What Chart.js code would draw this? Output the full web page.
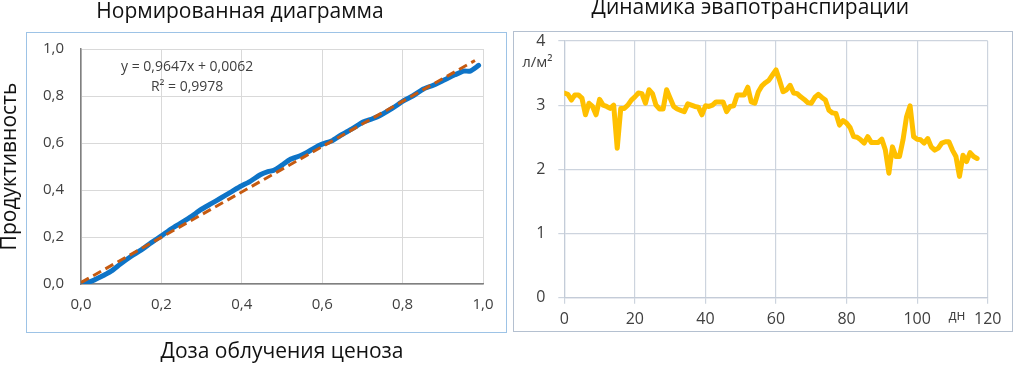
<!DOCTYPE html>
<html>
<head>
<meta charset="utf-8">
<script src="https://cdn.jsdelivr.net/npm/chart.js@4"></script>
<style>
  html, body { margin: 0; padding: 0; background: #fff; overflow: hidden; width: 1013px; height: 365px; }
  .frame { position: absolute; box-sizing: border-box; }
  #frameL { left: 26px; top: 32px; width: 481px; height: 301px; border: 1.5px solid #9DC3E6; }
  #frameR { left: 513px; top: 31px; width: 500px; height: 301px; border: 1.5px solid #B4C0D0; }
  .wrap { position: absolute; }
  #wrapL { left: -3px; top: -1px; width: 565px; height: 366px; }
  #wrapR { left: 513px; top: -5px; width: 508px; height: 370px; }
</style>
</head>
<body>
<div class="frame" id="frameL"></div>
<div class="frame" id="frameR"></div>
<div class="wrap" id="wrapL"><canvas id="cL" width="565" height="366"></canvas></div>
<div class="wrap" id="wrapR"><canvas id="cR" width="508" height="370"></canvas></div>
<script>
// ---------- Left chart data ----------
const leftTitle = 'Нормированная диаграмма';
const leftXTitle = 'Доза облучения ценоза';
const leftYTitle = 'Продуктивность';
const doseX = [0, 0.02, 0.048, 0.075, 0.098, 0.125, 0.148, 0.175, 0.2, 0.225, 0.247, 0.275, 0.297, 0.325, 0.347, 0.375, 0.396, 0.42, 0.446, 0.465, 0.48, 0.5, 0.52, 0.545, 0.562, 0.58, 0.6, 0.625, 0.645, 0.675, 0.703, 0.725, 0.745, 0.775, 0.803, 0.825, 0.852, 0.875, 0.902, 0.93, 0.952, 0.968, 0.989];
const prodY = [0, 0.008, 0.03, 0.055, 0.085, 0.118, 0.143, 0.176, 0.205, 0.235, 0.258, 0.288, 0.315, 0.343, 0.365, 0.393, 0.415, 0.436, 0.465, 0.478, 0.484, 0.506, 0.53, 0.546, 0.56, 0.578, 0.595, 0.61, 0.632, 0.661, 0.69, 0.703, 0.718, 0.748, 0.78, 0.8, 0.83, 0.845, 0.867, 0.89, 0.906, 0.906, 0.93];
const trendX = [0, 0.98];
const trendY = [0.006, 0.951];
const trendLabel = ['y = 0,9647x + 0,0062', 'R² = 0,9978'];
const leftTickLabels = ['0,0', '0,2', '0,4', '0,6', '0,8', '1,0'];

// ---------- Right chart data ----------
const rightTitle = 'Динамика эвапотранспирации';
const rightYUnit = 'л/м²';
const rightXUnit = 'дн';
const days = [];
for (let i = 0; i <= 117; i++) days.push(i);
const evapo = [3.19, 3.17, 3.08, 3.16, 3.16, 3.11, 2.85, 3.03, 2.98, 2.85,
  3.09, 3.0, 2.98, 2.95, 3.0, 2.33, 2.95, 2.95, 3.0, 3.08,
  3.13, 3.19, 3.18, 3.03, 3.24, 3.18, 3.0, 2.94, 2.94, 3.24,
  3.11, 2.98, 2.94, 2.92, 2.9, 3.02, 3.0, 2.98, 2.97, 2.85,
  2.99, 2.98, 3.0, 3.05, 3.05, 3.05, 2.9, 2.98, 2.99, 3.16,
  3.16, 3.16, 3.28, 3.05, 3.03, 3.21, 3.3, 3.35, 3.39, 3.47,
  3.55, 3.39, 3.21, 3.24, 3.31, 3.19, 3.18, 3.13, 3.09, 3.04,
  3.03, 3.12, 3.17, 3.12, 3.08, 2.92, 2.88, 2.87, 2.69, 2.76,
  2.72, 2.65, 2.51, 2.5, 2.46, 2.41, 2.51, 2.42, 2.42, 2.42,
  2.47, 2.3, 1.94, 2.35, 2.2, 2.2, 2.46, 2.82, 2.99, 2.51,
  2.47, 2.46, 2.41, 2.48, 2.35, 2.3, 2.33, 2.41, 2.43, 2.43,
  2.3, 2.2, 1.89, 2.22, 2.12, 2.26, 2.2, 2.17];

const FONT = '"Open Sans", "Noto Sans", sans-serif';

// ---------- Left chart ----------
const trendLabelPlugin = {
  id: 'trendLabel',
  afterDatasetsDraw(chart) {
    const {ctx, scales: {x, y}} = chart;
    ctx.save();
    ctx.font = '14px ' + FONT;
    ctx.fillStyle = '#404040';
    ctx.textAlign = 'center';
    ctx.textBaseline = 'middle';
    const cx = x.getPixelForValue(0.264);
    ctx.fillText(trendLabel[0], cx, y.getPixelForValue(0.923));
    ctx.fillText(trendLabel[1], cx, y.getPixelForValue(0.84));
    ctx.restore();
  }
};

new Chart(document.getElementById('cL'), {
  type: 'scatter',
  data: {
    datasets: [
      {
        data: doseX.map((v, i) => ({x: v, y: prodY[i]})),
        showLine: true,
        borderColor: '#0E74C7',
        borderWidth: 5,
        pointRadius: 0,
        tension: 0.2,
        borderJoinStyle: 'round',
        borderCapStyle: 'round',
        order: 2
      },
      {
        data: trendX.map((v, i) => ({x: v, y: trendY[i]})),
        showLine: true,
        borderColor: '#C55A11',
        borderWidth: 3,
        borderDash: [9, 5],
        pointRadius: 0,
        order: 1
      }
    ]
  },
  options: {
    responsive: false,
    animation: false,
    layout: { padding: { left: 0, right: 79, top: 0, bottom: 0 } },
    plugins: {
      legend: { display: false },
      tooltip: { enabled: false },
      title: {
        display: true,
        text: leftTitle,
        font: { family: FONT, size: 21, weight: 'normal' },
        color: '#111',
        padding: { top: 0, bottom: 24.8 }
      }
    },
    scales: {
      x: {
        type: 'linear', min: 0, max: 1,
        ticks: {
          stepSize: 0.2,
          font: { family: FONT, size: 15 },
          color: '#404040',
          padding: 12,
          maxRotation: 0,
          callback: (v, i) => leftTickLabels[i]
        },
        grid: { color: '#D9D9D9', lineWidth: 1, drawTicks: false },
        border: { color: '#808080', width: 1.5 },
        title: {
          display: true, text: leftXTitle,
          font: { family: FONT, size: 21 }, color: '#111',
          padding: { top: 0, bottom: 0 }
        },
        afterFit: (s) => { s.height = 81; }
      },
      y: {
        type: 'linear', min: 0, max: 1,
        ticks: {
          stepSize: 0.2,
          font: { family: FONT, size: 15 },
          color: '#404040',
          padding: 17,
          callback: (v, i) => leftTickLabels[i]
        },
        grid: { color: '#D9D9D9', lineWidth: 1, drawTicks: false },
        border: { color: '#808080', width: 1.5 },
        title: {
          display: true, text: leftYTitle,
          font: { family: FONT, size: 21 }, color: '#111',
          padding: { top: 0, bottom: 0 }
        },
        afterFit: (s) => { s.width = 84; }
      }
    }
  },
  plugins: [trendLabelPlugin]
});

// ---------- Right chart ----------
const unitPlugin = {
  id: 'units',
  afterDraw(chart) {
    const {ctx, scales: {x, y}, chartArea} = chart;
    ctx.save();
    ctx.fillStyle = '#404040';
    ctx.textAlign = 'center';
    ctx.textBaseline = 'middle';
    ctx.font = '15px ' + FONT;
    ctx.fillText(rightYUnit, chartArea.left - 27, y.getPixelForValue(3.66));
    ctx.font = '14px ' + FONT;
    ctx.fillText(rightXUnit, x.getPixelForValue(111.3), chartArea.bottom + 18);
    ctx.restore();
  }
};

new Chart(document.getElementById('cR'), {
  type: 'line',
  data: {
    datasets: [{
      data: days.map((d, i) => ({x: d, y: evapo[i]})),
      borderColor: '#FFC000',
      borderWidth: 5,
      pointRadius: 0,
      tension: 0,
      borderJoinStyle: 'round',
      borderCapStyle: 'round'
    }]
  },
  options: {
    responsive: false,
    animation: false,
    layout: { padding: { left: 0, right: 33.3, top: 0, bottom: 0 } },
    plugins: {
      legend: { display: false },
      tooltip: { enabled: false },
      title: {
        display: true,
        text: rightTitle,
        font: { family: FONT, size: 21, weight: 'normal' },
        color: '#111',
        padding: { top: 0, bottom: 20.8 }
      }
    },
    scales: {
      x: {
        type: 'linear', min: 0, max: 120,
        ticks: {
          stepSize: 20,
          font: { family: FONT, size: 16 },
          color: '#404040',
          padding: 6,
          maxRotation: 0
        },
        grid: { color: '#CDD4DE', lineWidth: 1.2, drawTicks: true, tickLength: 6 },
        border: { color: '#C4CCD8', width: 1.2 },
        afterFit: (s) => { s.height = 67.3; }
      },
      y: {
        type: 'linear', min: 0, max: 4,
        ticks: {
          stepSize: 1,
          font: { family: FONT, size: 16 },
          color: '#404040',
          padding: 13
        },
        grid: { color: '#CDD4DE', lineWidth: 1.2, drawTicks: true, tickLength: 6 },
        border: { color: '#C4CCD8', width: 1.2 },
        afterFit: (s) => { s.width = 51.3; }
      }
    }
  },
  plugins: [unitPlugin]
});
</script>
</body>
</html>
